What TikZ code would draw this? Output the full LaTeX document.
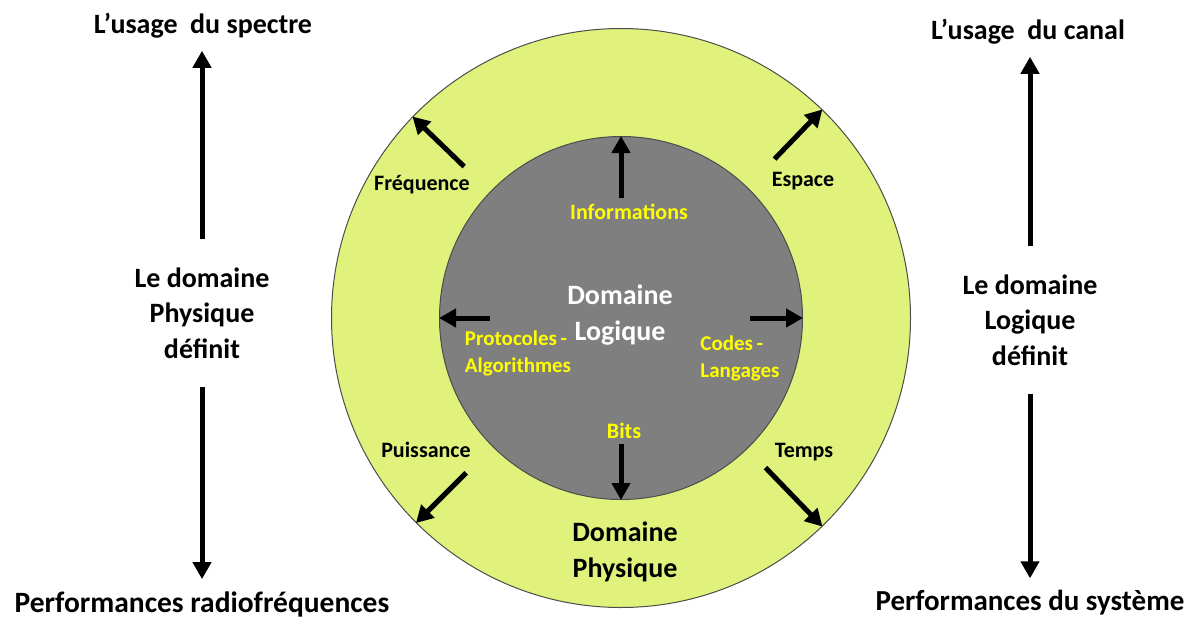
\documentclass[tikz,border=0pt]{standalone}
\usepackage{fontspec}
\setmainfont{Carlito}
\usepackage{tikz}
\usetikzlibrary{arrows.meta,positioning}
\usepackage{xcolor}
\definecolor{PhysGreen}{RGB}{224,242,124}
\definecolor{LogGrey}{RGB}{127,127,127}
\definecolor{LogYellow}{RGB}{255,255,0}

\tikzset{
  bigtext/.style={font=\bfseries\fontsize{28}{35.5}\selectfont, align=center, inner sep=0pt},
  smalltext/.style={font=\bfseries\fontsize{22}{27}\selectfont, align=center, inner sep=0pt},
  arr/.style={line width=5pt, -{Triangle[length=17pt,width=18pt]}},
  sidearr/.style={arr, shorten <=28pt, shorten >=12pt},
}

\begin{document}
\begin{tikzpicture}[x=1pt,y=-1pt]
    \useasboundingbox (0,0) rectangle (1200,619);
    % the two domains
    \node[circle, draw=black!70, line width=1pt, fill=PhysGreen, minimum size=579pt, inner sep=0pt] (phys) at (621,318) {};
    \node[circle, draw=black!70, line width=1pt, fill=LogGrey, minimum size=363pt, inner sep=0pt] (logic) at (621,318) {};
    % labels of the circles
    \node[bigtext, text=white] (dlog) at (620,315) {Domaine\\Logique};
    \node[bigtext] (dphys) at (625,552) {Domaine\\Physique};
    \node[smalltext, text=LogYellow] (info) at (629,212) {Informations};
    \node[smalltext, text=LogYellow] (bits) at (624,431) {Bits};
    \node[smalltext, text=LogYellow, align=left, font=\bfseries\fontsize{21}{27}\selectfont] (proto) at (518,353) {Protocoles\,-\\Algorithmes};
    \node[smalltext, text=LogYellow, align=left, font=\bfseries\fontsize{21}{27}\selectfont] (codes) at (740,358) {Codes\,-\\Langages};
    \node[smalltext] (freq) at (422,185) {Fréquence};
    \node[smalltext] (espace) at (803,181) {Espace};
    \node[smalltext] (puiss) at (426,450) {Puissance};
    \node[smalltext] (temps) at (804,452) {Temps};
    % arrows of the logical domain
    \coordinate (lstart) at (490,318);
    \coordinate (rstart) at (750,318);
    \draw[arr, shorten <=6pt] (info.north -| logic.north) -- (logic.north);
    \draw[arr, shorten <=5pt] (bits.south -| logic.south) -- (logic.south);
    \draw[arr] (lstart) -- (logic.west);
    \draw[arr] (rstart) -- (logic.east);
    % arrows of the physical domain
    \foreach \ang/\rad in {136/218,46/221,225/219,314/208} {
      \draw[arr] ([shift={(\ang:\rad pt)}]phys.center) -- (phys.\ang);
    }
    % left column
    \node[bigtext] (spectre) at (203,26) {L’usage\hspace{0.45em}du spectre};
    \node[bigtext] (defphys) at (202,313) {Le domaine\\Physique\\définit};
    \node[bigtext, font=\bfseries\fontsize{29.5}{35.5}\selectfont] (perfrf) at (202,604) {Performances radiofréquences};
    \draw[sidearr] (defphys.north) -- (defphys.north |- spectre.south);
    \draw[sidearr] (defphys.south) -- (defphys.south |- perfrf.north);
    % right column
    \node[bigtext] (canal) at (1028,32) {L’usage\hspace{0.45em}du canal};
    \node[bigtext] (deflog) at (1030,320) {Le domaine\\Logique\\définit};
    \node[bigtext, font=\bfseries\fontsize{29}{35.5}\selectfont] (perfsys) at (1030,603) {Performances du système};
    \draw[sidearr] (deflog.north) -- (deflog.north |- canal.south);
    \draw[sidearr] (deflog.south) -- (deflog.south |- perfsys.north);
\end{tikzpicture}
\end{document}
